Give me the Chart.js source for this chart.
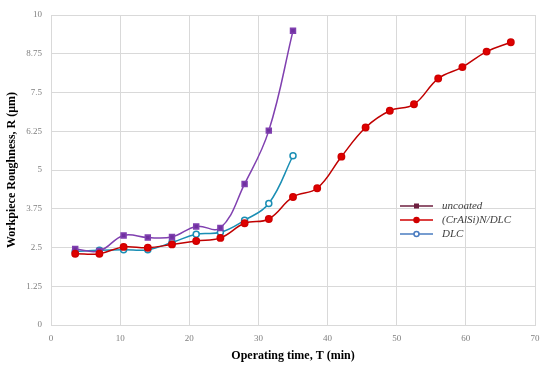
<!DOCTYPE html>
<html>
<head>
<meta charset="utf-8">
<script src="https://cdn.jsdelivr.net/npm/chart.js@4/dist/chart.umd.min.js"></script>
<style>
  html, body { margin: 0; padding: 0; background: #fff; }
  #wrap { width: 550px; height: 367px; }
</style>
</head>
<body>
<div id="wrap"><canvas id="my-chart" width="550" height="367"></canvas></div>
<script>
// data
const seriesNames = ['uncoated', '(CrAlSi)N/DLC', 'DLC'];

const uncoatedTime = [3.5, 7, 10.5, 14, 17.5, 21, 24.5, 28, 31.5, 35];
const uncoatedRough = [2.45, 2.39, 2.89, 2.82, 2.84, 3.18, 3.13, 4.55, 6.27, 9.49];

const crAlSiTime = [3.5, 7, 10.5, 14, 17.5, 21, 24.5, 28, 31.5, 35, 38.5, 42, 45.5, 49, 52.5, 56, 59.5, 63, 66.5];
const crAlSiRough = [2.3, 2.3, 2.52, 2.49, 2.6, 2.71, 2.81, 3.28, 3.42, 4.13, 4.41, 5.43, 6.37, 6.91, 7.12, 7.95, 8.32, 8.82, 9.12];

const dlcTime = [3.5, 7, 10.5, 14, 17.5, 21, 24.5, 28, 31.5, 35];
const dlcRough = [2.37, 2.41, 2.43, 2.43, 2.66, 2.93, 2.99, 3.38, 3.92, 5.46];

const yTicks = ['0', '1.25', '2.5', '3.75', '5', '6.25', '7.5', '8.75', '10'];

function pts(xs, ys) {
    return xs.map((x, i) => ({ x: x, y: ys[i] }));
}

const serif = "'Liberation Serif', 'DejaVu Serif', serif";

// legend drawn inside the plot, like the original
const innerLegend = {
    id: 'innerLegend',
    afterDraw(chart) {
        const c = chart.ctx;
        const items = [
            { line: '#6E1F3F', fill: '#6E1F3F', style: 'rect' },
            { line: '#D00000', fill: '#D00000', style: 'circle' },
            { line: '#4A7CC0', fill: '#ffffff', style: 'circle' }
        ];
        const x0 = 400, x1 = 433, tx = 442;
        const ys = [206, 220, 234];
        c.save();
        items.forEach((it, i) => {
            const y = ys[i];
            c.strokeStyle = it.line;
            c.lineWidth = 1.5;
            c.beginPath();
            c.moveTo(x0, y);
            c.lineTo(x1, y);
            c.stroke();
            c.fillStyle = it.fill;
            if (it.style === 'rect') {
                c.fillRect(414, y - 2.5, 5, 5);
            } else {
                c.beginPath();
                c.arc(416.5, y, 2.5, 0, Math.PI * 2);
                c.fill();
                c.stroke();
            }
            c.fillStyle = '#404040';
            c.font = 'italic 11px ' + serif;
            c.textBaseline = 'middle';
            c.fillText(seriesNames[i], tx, y);
        });
        c.restore();
    }
};

let ctx = document.querySelector('#my-chart').getContext('2d');
let myChart = new Chart(ctx, {
    type: 'line',
    data: {
        datasets: [{
            label: seriesNames[0],
            data: pts(uncoatedTime, uncoatedRough),
            borderColor: '#8040B0',
            backgroundColor: '#7030A0',
            pointStyle: 'rect',
            pointRadius: 3.5,
            borderWidth: 1.5,
            tension: 0.4,
            order: 1
        }, {
            label: seriesNames[1],
            data: pts(crAlSiTime, crAlSiRough),
            borderColor: '#C00000',
            backgroundColor: '#E00000',
            pointBorderColor: '#D00000',
            pointStyle: 'circle',
            pointRadius: 3.2,
            borderWidth: 1.5,
            tension: 0.4,
            order: 0
        }, {
            label: seriesNames[2],
            data: pts(dlcTime, dlcRough),
            borderColor: '#1A8EB4',
            backgroundColor: '#ffffff',
            pointBorderColor: '#1A8EB4',
            pointStyle: 'circle',
            pointRadius: 3,
            pointBorderWidth: 1.5,
            borderWidth: 1.5,
            tension: 0.4,
            order: 2
        }]
    },
    options: {
        animation: false,
        responsive: false,
        layout: { padding: { left: 0, right: 15, top: 15, bottom: 0 } },
        scales: {
            x: {
                type: 'linear',
                min: 0,
                max: 70,
                ticks: {
                    stepSize: 10,
                    padding: 8,
                    color: '#7f7f7f',
                    font: { family: serif, size: 9 }
                },
                grid: { color: '#D9D9D9', drawTicks: false },
                border: { color: '#D9D9D9' },
                title: {
                    display: true,
                    text: 'Operating time, T (min)',
                    color: '#000',
                    font: { family: serif, size: 12, weight: 'bold' },
                    padding: { top: 4 }
                },
                afterFit: function(scale) { scale.height = 42; }
            },
            y: {
                min: 0,
                max: 10,
                afterBuildTicks: function(scale) {
                    scale.ticks = yTicks.map(v => ({ value: parseFloat(v) }));
                },
                ticks: {
                    padding: 9,
                    color: '#7f7f7f',
                    font: { family: serif, size: 9 },
                    callback: function(value, index) { return yTicks[index]; }
                },
                grid: { color: '#D9D9D9', drawTicks: false },
                border: { color: '#D9D9D9' },
                title: {
                    display: true,
                    text: 'Workpiece Roughness, R (μm)',
                    color: '#000',
                    font: { family: serif, size: 12, weight: 'bold' },
                    padding: { top: 5, bottom: 2 }
                },
                afterFit: function(scale) { scale.width = 51; }
            }
        },
        plugins: {
            legend: { display: false },
            tooltip: { enabled: false }
        }
    },
    plugins: [innerLegend]
});
</script>
</body>
</html>
